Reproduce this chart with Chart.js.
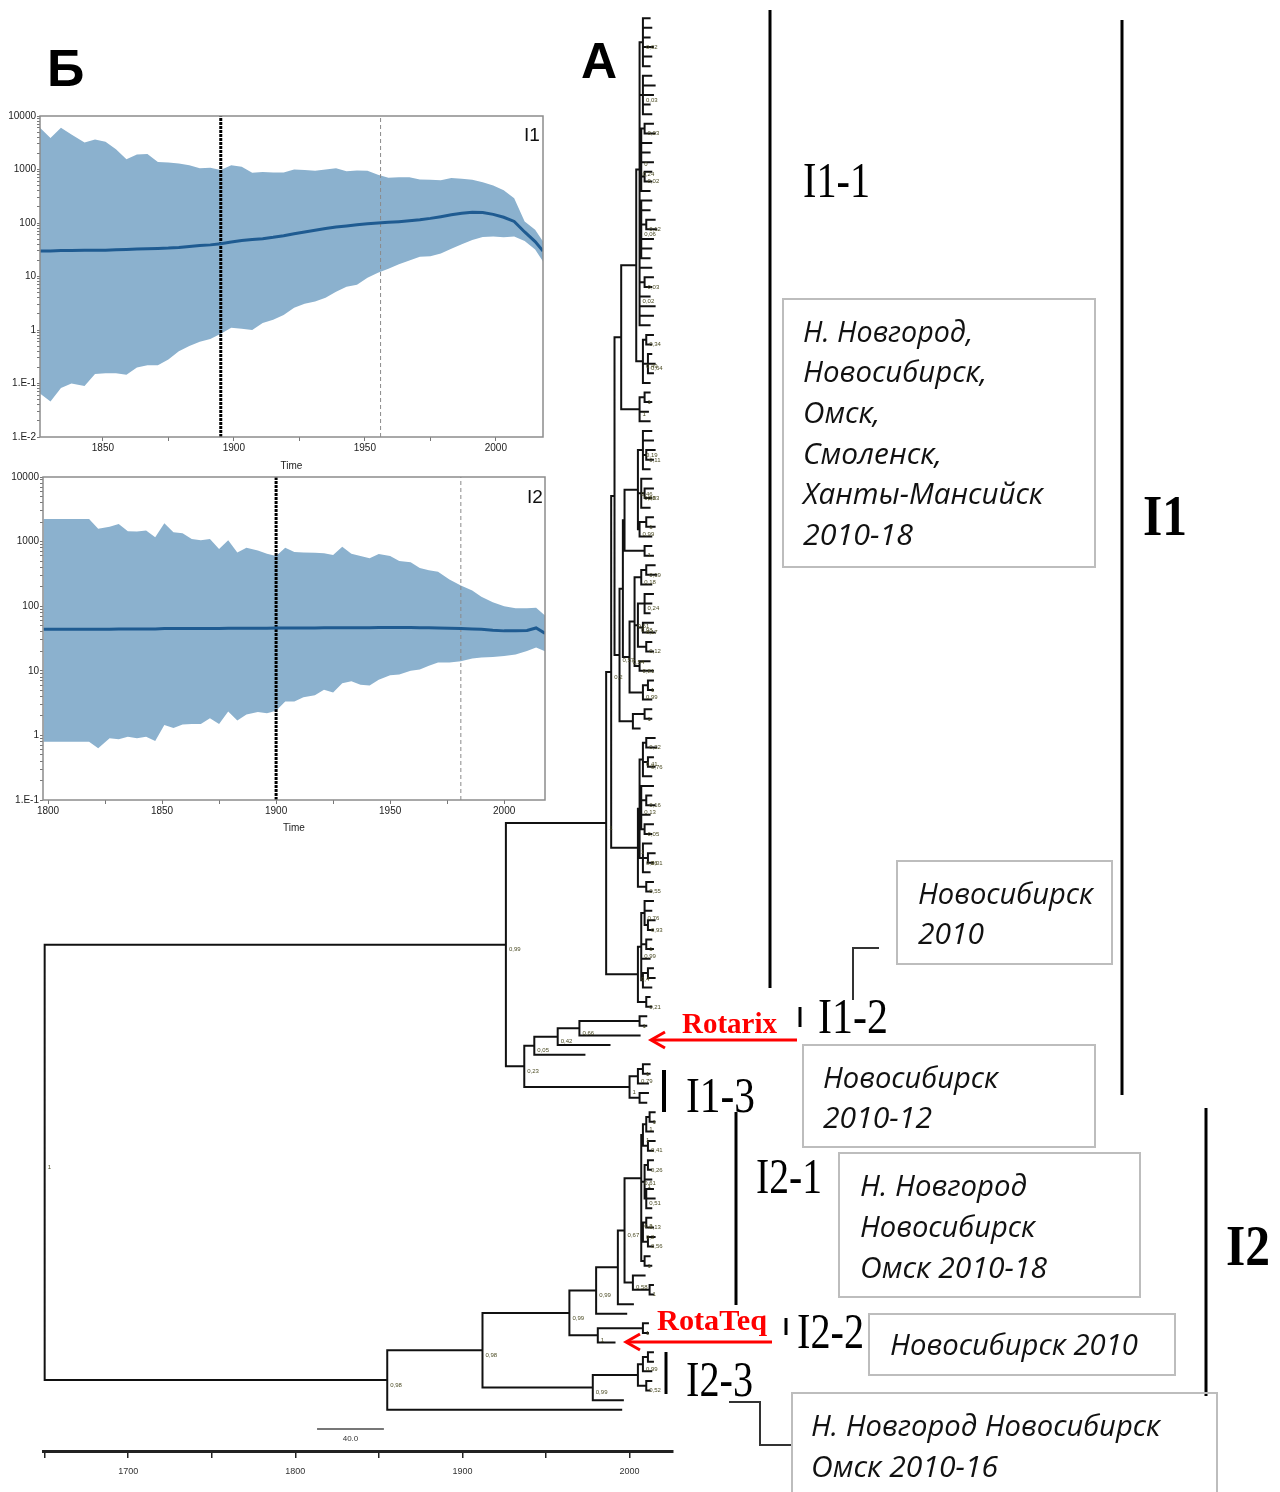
<!DOCTYPE html>
<html>
<head>
<meta charset="utf-8">
<script src="https://cdn.jsdelivr.net/npm/chart.js@4.4.1/dist/chart.umd.min.js"></script>
<style>
  html, body { margin:0; padding:0; background:#fff; }
  #page { position:relative; width:1280px; height:1492px; overflow:hidden; }
  #page canvas { position:absolute; left:0; }
  #tree { top:0; }
  #sky1 { top:100px; }
  #sky2 { top:462px; }
  #notes { position:absolute; left:0; top:0; }
</style>
</head>
<body>
<div id="page">
  <canvas id="tree" width="1280" height="1492"></canvas>
  <canvas id="sky1" width="560" height="375"></canvas>
  <canvas id="sky2" width="560" height="375"></canvas>

  <svg id="notes" width="1280" height="1492" viewBox="0 0 1280 1492">
    <g font-family="Liberation Sans, Arial, sans-serif" font-weight="bold" fill="#000">
      <text x="47" y="86" font-size="52">Б</text>
      <text x="581" y="78" font-size="50">A</text>
    </g>
    <g font-family="Liberation Sans, Arial, sans-serif" font-size="19" fill="#111">
      <text x="524" y="141">I1</text>
      <text x="527" y="503">I2</text>
    </g>

    <!-- clade bars -->
    <g stroke="#000" stroke-width="3">
      <line x1="770" y1="10" x2="770" y2="988"/>
      <line x1="1122" y1="20" x2="1122" y2="1095"/>
      <line x1="1206" y1="1108" x2="1206" y2="1396"/>
      <line x1="736" y1="1112" x2="736" y2="1305"/>
      <line x1="800" y1="1007" x2="800" y2="1027"/>
      <line x1="664" y1="1070" x2="664" y2="1112" stroke-width="4"/>
      <line x1="786" y1="1318" x2="786" y2="1335"/>
      <line x1="666" y1="1352" x2="666" y2="1394"/>
    </g>
    <g stroke="#333" stroke-width="2" fill="none">
      <polyline points="853,1000 853,948 879,948"/>
      <polyline points="729,1402 760,1402 760,1445 792,1445"/>
    </g>

    <g font-family="Liberation Serif, Times New Roman, serif" font-size="50" fill="#000">
      <text x="803" y="197" textLength="67" lengthAdjust="spacingAndGlyphs">I1-1</text>
      <text x="818" y="1033" textLength="70" lengthAdjust="spacingAndGlyphs">I1-2</text>
      <text x="686" y="1112" textLength="69" lengthAdjust="spacingAndGlyphs">I1-3</text>
      <text x="756" y="1193" textLength="66" lengthAdjust="spacingAndGlyphs">I2-1</text>
      <text x="797" y="1348" textLength="67" lengthAdjust="spacingAndGlyphs">I2-2</text>
      <text x="686" y="1396" textLength="67" lengthAdjust="spacingAndGlyphs">I2-3</text>
      <text x="1143" y="535" font-size="58" font-weight="bold" textLength="44" lengthAdjust="spacingAndGlyphs">I1</text>
      <text x="1226" y="1265" font-size="58" font-weight="bold" textLength="44" lengthAdjust="spacingAndGlyphs">I2</text>
    </g>

    <!-- vaccine arrows -->
    <g font-family="Liberation Serif, Times New Roman, serif" font-size="30" font-weight="bold" fill="#ff0000">
      <text x="682" y="1033" textLength="95" lengthAdjust="spacingAndGlyphs">Rotarix</text>
      <text x="657" y="1330" textLength="110" lengthAdjust="spacingAndGlyphs">RotaTeq</text>
    </g>
    <g stroke="#ff0000" stroke-width="3" fill="none">
      <line x1="797" y1="1040" x2="653" y2="1040"/>
      <polyline points="665,1032 651,1040 665,1048"/>
      <line x1="772" y1="1342" x2="628" y2="1342"/>
      <polyline points="640,1334 626,1342 640,1350"/>
    </g>

    <!-- region boxes -->
    <g fill="none" stroke="#bdbdbd" stroke-width="2">
      <rect x="783" y="299" width="312" height="268"/>
      <rect x="897" y="861" width="215" height="103"/>
      <rect x="803" y="1045" width="292" height="102"/>
      <rect x="839" y="1153" width="301" height="144"/>
      <rect x="869" y="1314" width="306" height="61"/>
      <rect x="792" y="1393" width="425" height="110"/>
    </g>
    <g font-family="Open Sans, Noto Sans, sans-serif" font-style="italic" font-size="29" fill="#111">
      <text x="803" y="342" textLength="170" lengthAdjust="spacingAndGlyphs">Н. Новгород,</text>
      <text x="803" y="382" textLength="184" lengthAdjust="spacingAndGlyphs">Новосибирск,</text>
      <text x="803" y="423" textLength="77" lengthAdjust="spacingAndGlyphs">Омск,</text>
      <text x="803" y="464" textLength="139" lengthAdjust="spacingAndGlyphs">Смоленск,</text>
      <text x="803" y="504" textLength="240" lengthAdjust="spacingAndGlyphs">Ханты-Мансийск</text>
      <text x="803" y="545" textLength="110" lengthAdjust="spacingAndGlyphs">2010-18</text>

      <text x="918" y="904" textLength="175" lengthAdjust="spacingAndGlyphs">Новосибирск</text>
      <text x="918" y="944" textLength="66" lengthAdjust="spacingAndGlyphs">2010</text>

      <text x="823" y="1088" textLength="175" lengthAdjust="spacingAndGlyphs">Новосибирск</text>
      <text x="823" y="1128" textLength="109" lengthAdjust="spacingAndGlyphs">2010-12</text>

      <text x="860" y="1196" textLength="167" lengthAdjust="spacingAndGlyphs">Н. Новгород</text>
      <text x="860" y="1237" textLength="175" lengthAdjust="spacingAndGlyphs">Новосибирск</text>
      <text x="860" y="1278" textLength="187" lengthAdjust="spacingAndGlyphs">Омск 2010-18</text>

      <text x="890" y="1355" textLength="248" lengthAdjust="spacingAndGlyphs">Новосибирск 2010</text>

      <text x="811" y="1436" textLength="349" lengthAdjust="spacingAndGlyphs">Н. Новгород Новосибирск</text>
      <text x="811" y="1477" textLength="187" lengthAdjust="spacingAndGlyphs">Омск 2010-16</text>
    </g>
  </svg>
</div>

<script>
// ---- inset Б, I1: Bayesian skyline (years, upper 95% HPD, lower 95% HPD, median)
const skyI1Years  = [1826,1830,1834,1838,1843,1847,1851,1855,1859,1863,1867,1871,1875,1879,1883,1887,1891,1895,1899,1903,1907,1911,1915,1919,1923,1927,1931,1935,1939,1943,1947,1951,1955,1959,1963,1967,1971,1975,1979,1983,1987,1991,1995,1999,2003,2007,2011,2015,2018];
const skyI1Upper  = [6000,3900,6000,4500,3200,3650,3300,2400,1550,1900,1950,1380,1350,1300,1200,1050,1080,980,1200,1130,870,900,880,880,1000,980,950,1000,1050,930,960,950,800,700,720,720,650,640,630,690,670,640,580,500,410,290,107,75,45];
const skyI1Lower  = [0.065,0.046,0.082,0.1,0.09,0.15,0.155,0.155,0.145,0.2,0.22,0.22,0.28,0.4,0.5,0.6,0.68,0.85,1.1,1.05,1.0,1.35,1.55,1.9,2.6,3.1,3.4,4.0,5.2,6.4,7.0,9.5,11.8,14,17,20,23.5,24,27,33,40,48,55,56,54,56,46,32,19];
const skyI1Median = [30,30,30.5,30.5,31,31,31,31.5,32,32.5,33,33.5,34,35,36.5,38,39,41,44,47,49,51,54,58,63,68,73,79,84,88,93,97,100,103,106,110,115,122,131,142,152,158,157,145,128,107,68,45,30];
const skyI1Marks  = [1895, 1956];

// ---- inset Б, I2
const skyI2Years  = [1798,1818,1822,1827,1831,1835,1839,1843,1847,1851,1855,1859,1863,1867,1871,1875,1879,1883,1887,1892,1896,1900,1904,1908,1912,1917,1921,1925,1929,1933,1937,1941,1945,1950,1954,1959,1963,1967,1971,1976,1981,1986,1990,1995,2000,2005,2010,2014,2018];
const skyI2Upper  = [2240,2240,1580,1700,1880,1450,1430,1480,1170,1920,1400,1350,1100,1050,1100,770,1050,680,800,730,650,600,800,690,680,670,660,620,830,650,600,550,640,600,500,480,390,360,340,260,210,175,140,115,100,93,93,95,71];
const skyI2Lower  = [0.8,0.8,0.63,0.9,0.87,0.95,0.9,0.95,0.82,1.45,1.3,1.48,1.5,1.5,1.85,1.5,2.35,1.7,2.1,2.3,2.2,2.4,3.35,3.35,3.9,4.2,5.1,4.6,6.4,6.9,6.1,5.9,7.3,8.5,8.8,10,10.5,12,13.5,13.5,14,15.5,16,16.3,17,17.8,20.2,23,20];
const skyI2Median = [44,44,44,44,44.5,44.5,44.5,44.5,44.5,45,45,45,45,45,45,45,45.5,45.5,45.5,45.5,45.5,46,46,46,46,46,46.5,46.5,46.5,46.5,46.5,46.5,47,47,47,47,46.5,46.5,46,45.5,45,44.5,44,42.5,41.5,41.5,42,46,38];
const skyI2Marks  = [1900, 1981];

// ---- tree A: node = [year, 'posterior', ...children], tip = sampling year
const cladeS1 = [2006, '0,24',
  [2008, '0,02', 2012, 2013, 2012, 2014, 2013, 2012],
  [2008, '0,03', 2013, 2015, 2014, 2012, 2013],
  [2007, '0', [2009, '0,03', 2014, 2015], 2013, 2012, 2014, [2009, '0,02', 2013, 2013], 2012],
  [2007, '0,06', 2013, 2012, [2010, '0,12', 2015, 2016], 2014, 2013, 2012],
  [2006, '0,02', 2013, [2009, '0,03', 2014, 2013], 2012, 2015, 2014, 2012]];
const cladeS2 = [2008, '0,49', [2010, '0,34', 2014, 2013], [2011, '0,64', 2013, 2015, 2014], 2012];
const cladeS3 = [2006, '1', [2009, '1', 2012, 2013], 2011, 2012];
const cladeS4 = [2005, '0,46', [2008, '0,19', 2013, 2014, [2010, '0,11', 2015, 2014], 2012],
  [2007, '0,33', 2013, [2009, '0,83', 2014, 2013], 2012], [2006, '0,99', [2010, '1', 2014, 2015], 2013]];
const cladeS5 = [2009, '1', 2013, 2014];
const cladeS6 = [2003, '0,61', [2007, '0,18', [2010, '0,19', 2015, 2016], 2013],
  [2005, '0,98', [2009, '0,24', 2014, 2013, 2012], [2008, '0,17', 2014, 2015], [2010, '0,12', 2013, 2014]],
  [2006, '0,81', 2012, 2014]];
const cladeS7 = [2008, '0,99', [2011, '1', 2014, 2014], 2013];
const cladeS8 = [2009, '1', 2013, 2013];
const cladeS9 = [2005, '1',
  [2006, [2008, '0,41', [2010, '0,22', 2015, 2016], [2011, '0,76', 2014, 2015], 2013],
    [2007, '0,13', 2014, [2010, '0,16', 2013, 2015], 2012, [2009, '0,05', 2014, 2013]],
    [2008, '0,26', 2013, [2011, '0,01', 2015, 2014], 2012]],
  [2010, '0,55', 2014, 2013]];
const cladeS10 = [2005, '0,4',
  [2007, [2009, '0,76', 2014, 2013, [2011, '0,93', 2015, 2014]],
    [2007, '0,99', [2010, '1', 2013, 2014], 2012], [2008, [2011, 2014, 2015], 2013]],
  [2010, '0,21', 2012, 2013]];

const cladeI1_1 = [1986, '1',
  [1989, '0,2',
    [1991, [1995, [2004, cladeS1, cladeS2], cladeS3],
      [1994, '0,57', [1996, [1997, cladeS4, cladeS5], [2000, '0,54', cladeS6, cladeS7]], [2002, cladeS8, 2006]]],
    cladeS9],
  cladeS10];
const cladeI1_2 = [1943, '0,05', [1957, '0,42', [1970, '0,66', [2006, '1', 2010, 2010], 2006], 1988], 1973];
const cladeI1_3 = [2000, '1', [2005, '0,79', [2008, '1', 2012, 2012], 2011], [2006, 2011, 2010]];
const cladeI1 = [1926, '0,99', cladeI1_1, [1937, '0,23', cladeI1_2, cladeI1_3]];

const cladeI2_1top = [2007, '0,61', [2008, '1', [2010, '1', [2012, '1', 2015, 2015], 2014], [2011, '0,41', 2015, 2014]],
  [2007, '0,3', [2009, '1', [2011, '0,26', 2014, 2013], 2013, [2010, '0,51', 2014, 2015, 2013]],
    [2008, '0,2', [2010, '0,13', 2013, 2014], [2011, '0,56', 2015, 2014]], [2009, '1', 2012, 2013]]];
const cladeI2_1 = [1980, '0,99', [1993, [1997, '0,67', cladeI2_1top, [2002, '0,58', 2009, [2012, '1', 2014, 2014]]], 2002], 1998];
const cladeI2_2 = [1981, '1', [2008, '1', 2011, 2011], 1991];
const cladeI2_3 = [1978, '0,99', [2005, [2008, '0,99', [2011, 2014, 2014], 2013], [2010, '0,52', 2013, 2012]], 1996];
const cladeI2 = [1855, '0,98', [1912, '0,98', [1964, '0,99', cladeI2_1, cladeI2_2], cladeI2_3], 1995];
const treeRoot = [1650, '1', cladeI1, cladeI2];

const treeAxisTicks = [1700, 1800, 1900, 2000];
const scaleBarStart = 1813, scaleBarYears = 40;

// ---------- tree layout (tips get consecutive rows, nodes sit midway)
const treePts = [];
const treeNodeLabels = [];
let nextTip = 0;
function seg(x0, y0, x1, y1) { treePts.push({x:x0, y:y0}, {x:x1, y:y1}, {x:x1, y:null}); }
function place(node, parentYear) {
  if (typeof node === 'number') {
    const y = nextTip++;
    seg(parentYear, y, node, y);
    return y;
  }
  const year = node[0];
  const label = typeof node[1] === 'string' ? node[1] : null;
  const kids = node.slice(label === null ? 1 : 2);
  const ys = kids.map(k => place(k, year));
  const y0 = ys[0], y1 = ys[ys.length - 1];
  const y = (y0 + y1) / 2;
  seg(year, y0, year, y1);
  if (parentYear !== null) seg(parentYear, y, year, y);
  if (label) treeNodeLabels.push({x:year, y, text:label});
  return y;
}
place(treeRoot, null);
const scaleBarRow = nextTip + 1;

const stepTicks = (min, max, step) => {
  const out = [];
  for (let v = Math.ceil(min / step) * step; v <= max + 1e-9; v += step) out.push({value:v});
  return out;
};

const treeLabelsPlugin = {
  id: 'treeLabels',
  afterDatasetsDraw(chart) {
    const {ctx, scales:{x, y}} = chart;
    ctx.save();
    ctx.font = '6px "Liberation Sans", Arial, sans-serif';
    ctx.fillStyle = '#4d4d26';
    ctx.textBaseline = 'top';
    treeNodeLabels.forEach(l => ctx.fillText(l.text, x.getPixelForValue(l.x) + 3, y.getPixelForValue(l.y) + 2));
    ctx.font = '8px "Liberation Sans", Arial, sans-serif';
    ctx.fillStyle = '#333';
    ctx.textAlign = 'center';
    ctx.fillText(scaleBarYears.toFixed(1), x.getPixelForValue(scaleBarStart + scaleBarYears / 2), y.getPixelForValue(scaleBarRow) + 6);
    ctx.restore();
  }
};

new Chart(document.getElementById('tree'), {
  type: 'scatter',
  data: {
    datasets: [
      { data: treePts, showLine: true, borderColor: '#111', borderWidth: 2, pointRadius: 0,
        spanGaps: false, borderCapStyle: 'square' },
      { data: [{x:scaleBarStart, y:scaleBarRow}, {x:scaleBarStart + scaleBarYears, y:scaleBarRow}],
        showLine: true, borderColor: '#777', borderWidth: 2, pointRadius: 0 }
    ]
  },
  options: {
    responsive: false, animation: false, events: [],
    layout: { padding: { left: 43, right: 607, top: 0, bottom: 0 } },
    plugins: { legend: { display: false }, tooltip: { enabled: false } },
    scales: {
      x: {
        type: 'linear', min: 1649, max: 2026,
        afterFit: s => { s.height = 41; },
        afterBuildTicks: s => { s.ticks = stepTicks(1650, 2026, 50); },
        border: { display: true, color: '#222', width: 3 },
        grid: { drawOnChartArea: false, tickLength: 7, color: '#222', lineWidth: 1.5 },
        ticks: { autoSkip: false, maxRotation: 0, padding: 8, color: '#333',
                 font: { size: 9, family: 'Liberation Sans' },
                 callback: v => treeAxisTicks.includes(v) ? String(v) : '' }
      },
      y: { type: 'linear', reverse: true, min: -1.9, max: 149.3, display: false }
    }
  },
  plugins: [treeLabelsPlugin]
});

// ---------- skyline insets
const BAND = 'rgb(139,177,206)';
const framePlugin = {
  id: 'frame',
  afterDraw(c) {
    const a = c.chartArea, ctx = c.ctx;
    ctx.save();
    ctx.strokeStyle = '#8c8c8c';
    ctx.lineWidth = 1.5;
    ctx.strokeRect(a.left, a.top, a.right - a.left, a.bottom - a.top);
    ctx.restore();
  }
};
function logTicks(min, max) {
  const out = [];
  for (let e = Math.round(Math.log10(min)); e <= Math.round(Math.log10(max)); e++) {
    for (let m = 1; m < 10; m++) {
      const v = +(m * Math.pow(10, e)).toPrecision(6);
      if (v >= min * 0.999 && v <= max * 1.001) out.push({value: v, major: m === 1});
    }
  }
  return out;
}
function logLabel(v) {
  const e = Math.log10(v);
  if (Math.abs(e - Math.round(e)) > 1e-6) return '';
  const n = Math.round(e);
  return n >= 0 ? String(Math.pow(10, n)) : '1.E' + n;
}

function skyChart(id, c) {
  const pts = vals => c.years.map((t, i) => ({x: t, y: vals[i]}));
  const marks = c.marks.map((t, i) => ({
    data: [{x: t, y: c.ymin}, {x: t, y: c.ymax}],
    showLine: true, pointRadius: 0, order: 1,
    borderColor: i === 0 ? '#000' : '#8a8a8a',
    borderWidth: i === 0 ? 3 : 1,
    borderDash: i === 0 ? [3, 1] : [4, 3]
  }));
  new Chart(document.getElementById(id), {
    type: 'scatter',
    data: {
      datasets: [
        { data: pts(c.median), showLine: true, borderColor: '#1f5b91', borderWidth: 3, pointRadius: 0, order: 0 },
        ...marks,
        { data: pts(c.upper), showLine: true, borderWidth: 0, borderColor: 'rgba(0,0,0,0)',
          backgroundColor: BAND, fill: '+1', pointRadius: 0, order: 3 },
        { data: pts(c.lower), showLine: true, borderWidth: 0, borderColor: 'rgba(0,0,0,0)',
          fill: false, pointRadius: 0, order: 4 }
      ]
    },
    options: {
      responsive: false, animation: false, events: [],
      layout: { padding: { top: c.padTop, right: c.padRight, left: 0, bottom: 0 } },
      plugins: { legend: { display: false }, tooltip: { enabled: false } },
      scales: {
        x: {
          type: 'linear', min: c.xmin, max: c.xmax,
          afterFit: s => { s.height = c.xh; },
          afterBuildTicks: s => { s.ticks = stepTicks(c.xmin, c.xmax, 25); },
          border: { display: false },
          grid: { drawOnChartArea: false, tickLength: 4, color: '#777' },
          ticks: { autoSkip: false, maxRotation: 0, padding: 1, color: '#222',
                   font: { size: 10, family: 'Liberation Sans' },
                   callback: v => v % 50 === 0 ? String(v) : '' },
          title: { display: true, text: 'Time', color: '#222', padding: { top: 0, bottom: 3 },
                   font: { size: 10, family: 'Liberation Sans' } }
        },
        y: {
          type: 'logarithmic', min: c.ymin, max: c.ymax,
          afterFit: s => { s.width = c.yw; },
          afterBuildTicks: s => { s.ticks = logTicks(c.ymin, c.ymax); },
          border: { display: false },
          grid: { drawOnChartArea: false, tickLength: 3, color: '#777' },
          ticks: { autoSkip: false, padding: 1, color: '#222',
                   font: { size: 10, family: 'Liberation Sans' }, callback: logLabel }
        }
      }
    },
    plugins: [framePlugin]
  });
}

skyChart('sky1', {
  years: skyI1Years, upper: skyI1Upper, lower: skyI1Lower, median: skyI1Median, marks: skyI1Marks,
  xmin: 1826, xmax: 2018, ymin: 0.01, ymax: 10000,
  padTop: 16, padRight: 17, xh: 38, yw: 40
});
skyChart('sky2', {
  years: skyI2Years, upper: skyI2Upper, lower: skyI2Lower, median: skyI2Median, marks: skyI2Marks,
  xmin: 1797.8, xmax: 2017.9, ymin: 0.1, ymax: 10000,
  padTop: 15, padRight: 15, xh: 37, yw: 43
});
</script>
</body>
</html>
